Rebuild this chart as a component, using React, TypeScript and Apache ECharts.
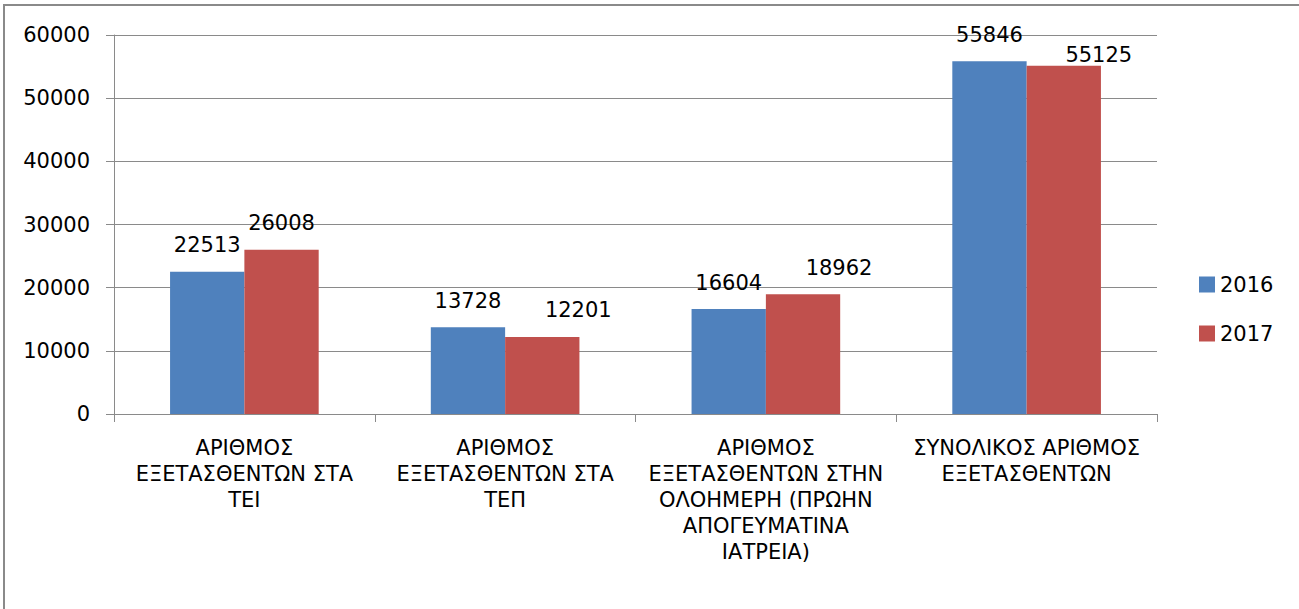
import React, { useEffect, useRef } from "react";
import * as echarts from "echarts";

const categories = [
  "ΑΡΙΘΜΟΣ\nΕΞΕΤΑΣΘΕΝΤΩΝ ΣΤΑ\nΤΕΙ",
  "ΑΡΙΘΜΟΣ\nΕΞΕΤΑΣΘΕΝΤΩΝ ΣΤΑ\nΤΕΠ",
  "ΑΡΙΘΜΟΣ\nΕΞΕΤΑΣΘΕΝΤΩΝ ΣΤΗΝ\nΟΛΟΗΜΕΡΗ (ΠΡΩΗΝ\nΑΠΟΓΕΥΜΑΤΙΝΑ\nΙΑΤΡΕΙΑ)",
  "ΣΥΝΟΛΙΚΟΣ ΑΡΙΘΜΟΣ\nΕΞΕΤΑΣΘΕΝΤΩΝ",
];
const values2016 = [22513, 13728, 16604, 55846];
const values2017 = [26008, 12201, 18962, 55125];
const seriesNames = ["2016", "2017"];

// label nudges (pixels) as placed in the original
const labelOffsets2016: number[][] = [[0, 0], [0, 0], [0, 0], [0, 0]];
const labelOffsets2017: number[][] = [[0, 0], [36, 0], [36, 0], [35, 16]];

const FONT = "DejaVu Sans";

export default function App() {
  const ref = useRef<HTMLDivElement>(null);
  useEffect(() => {
    document.body.style.margin = "0";
    const chart = echarts.init(ref.current!, null, { renderer: "svg" });
    const labelCfg = {
      show: true,
      position: "top" as const,
      distance: 16,
      color: "#000",
      fontFamily: FONT,
      fontSize: 21,
    };
    const build = (vals: number[], offs: number[][]) =>
      vals.map((v, i) => ({ value: v, label: { offset: offs[i] } }));
    chart.setOption({
      animation: false,
      backgroundColor: "#fff",
      textStyle: { fontFamily: FONT },
      graphic: [
        {
          type: "rect",
          shape: { x: 4, y: 5, width: 1400, height: 700 },
          style: { fill: "none", stroke: "#8a8a8a", lineWidth: 2 },
          silent: true,
        },
      ],
      grid: { left: 114, right: 142, top: 35, bottom: 195, containLabel: false },
      legend: {
        orient: "vertical",
        left: 1194,
        top: 269,
        itemWidth: 16,
        itemHeight: 16,
        itemGap: 28,
        icon: "rect",
        textStyle: { fontFamily: FONT, fontSize: 21, color: "#000" },
        data: seriesNames,
      },
      xAxis: {
        type: "category",
        data: categories,
        axisLine: { lineStyle: { color: "#8a8a8a", width: 1 } },
        axisTick: { show: true, length: 8, alignWithLabel: false, lineStyle: { color: "#8a8a8a" } },
        axisLabel: {
          interval: 0,
          margin: 21,
          color: "#000",
          fontFamily: FONT,
          fontSize: 21,
          lineHeight: 26,
          align: "center",
        },
      },
      yAxis: {
        type: "value",
        min: 0,
        max: 60000,
        interval: 10000,
        axisLine: { show: true, lineStyle: { color: "#8a8a8a", width: 1 } },
        axisTick: { show: true, length: 8, lineStyle: { color: "#8a8a8a" } },
        splitLine: { show: true, lineStyle: { color: "#8a8a8a", width: 1 } },
        axisLabel: {
          margin: 24,
          color: "#000",
          fontFamily: FONT,
          fontSize: 21,
          formatter: (v: number) => String(v),
        },
      },
      series: [
        {
          name: seriesNames[0],
          type: "bar",
          data: build(values2016, labelOffsets2016),
          barGap: "0%",
          barCategoryGap: "43%",
          itemStyle: { color: "#4F81BD" },
          label: labelCfg,
        },
        {
          name: seriesNames[1],
          type: "bar",
          data: build(values2017, labelOffsets2017),
          itemStyle: { color: "#C0504D" },
          label: labelCfg,
        },
      ],
    });
    return () => chart.dispose();
  }, []);
  return <div ref={ref} style={{ width: 1299, height: 609 }} />;
}
